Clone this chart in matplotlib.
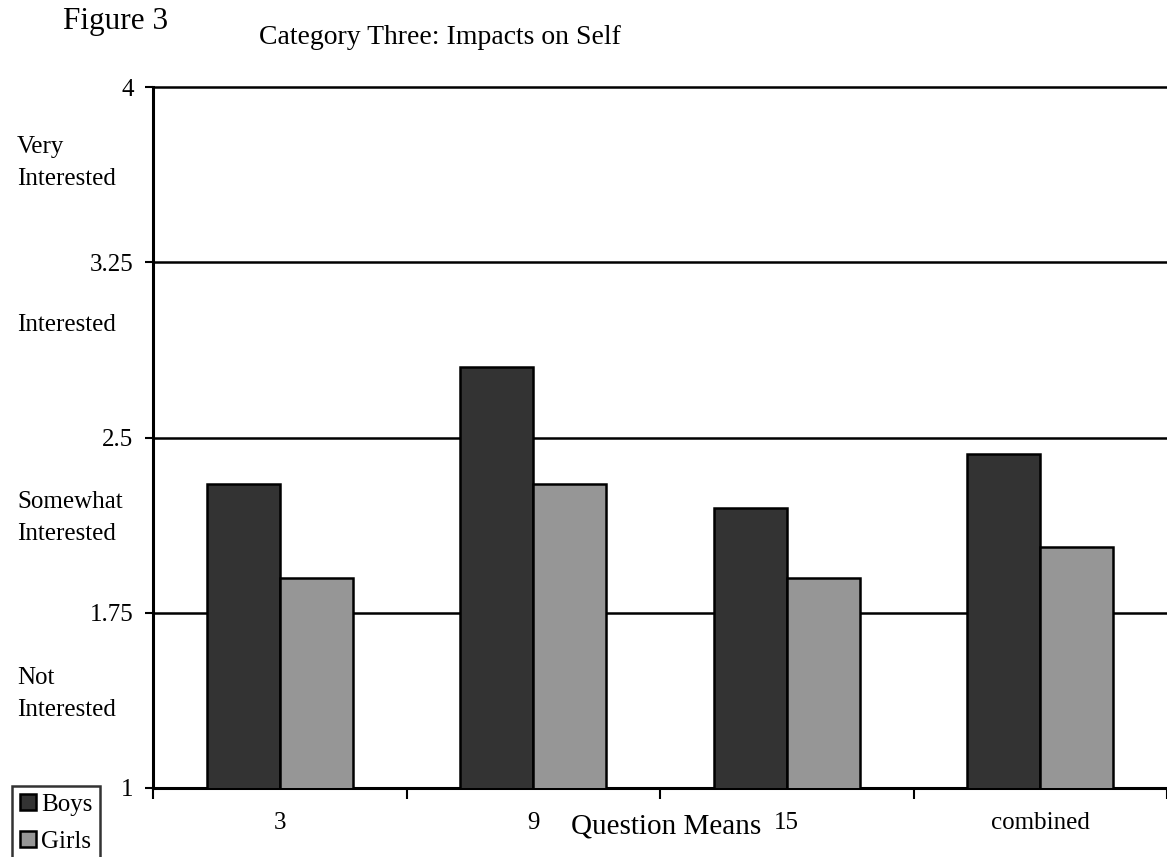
import numpy as np
import matplotlib
matplotlib.use("Agg")
import matplotlib.pyplot as plt
from matplotlib.patches import Patch
import matplotlib.transforms as mtransforms

plt.rcParams['font.family'] = ['Liberation Serif', 'DejaVu Serif']

# question means by group
questions = ['3', '9', '15', 'combined']
boys = [2.30, 2.80, 2.20, 2.43]
girls = [1.90, 2.30, 1.90, 2.03]
y_ticks = [1, 1.75, 2.5, 3.25, 4]
y_tick_labels = ['1', '1.75', '2.5', '3.25', '4']
scale_labels = ['Very\nInterested', 'Interested', 'Somewhat\nInterested', 'Not\nInterested']
scale_pos = [3.675, 2.98, 2.156, 1.403]

fig = plt.figure(figsize=(11.67, 8.57), dpi=100)
ax = fig.add_axes([153 / 1167, 69 / 857, 1 - 153 / 1167, 701 / 857])

x = np.arange(len(questions))
w = 0.288
ax.bar(x - w / 2, boys, w, bottom=0, color='#333333', edgecolor='black', linewidth=1.8, zorder=3)
ax.bar(x + w / 2, girls, w, bottom=0, color='#969696', edgecolor='black', linewidth=1.8, zorder=3)

ax.set_xlim(-0.5, len(questions) - 0.5)
ax.set_ylim(1, 4)

# horizontal reference lines, the top one sits on the axes edge
for yv in y_ticks[1:]:
    ax.axhline(yv, color='black', linewidth=1.8, zorder=1, clip_on=False)

ax.set_yticks(y_ticks)
ax.set_yticklabels(y_tick_labels, fontsize=18)
ax.tick_params(axis='y', direction='out', length=6, width=1.5, pad=8)

ax.set_xticks(np.arange(len(questions) + 1) - 0.5)
ax.set_xticklabels([])
ax.tick_params(axis='x', direction='out', length=8, width=1.5)
for i, q in enumerate(questions):
    ax.text(i, 1 - 823 / 857, q, transform=mtransforms.blended_transform_factory(ax.transData, fig.transFigure),
            ha='center', va='center', fontsize=18)

fig.text(666 / 1167, 1 - 827 / 857, 'Question Means', ha='center', va='center', fontsize=21)

for s in ['top', 'right']:
    ax.spines[s].set_visible(False)
for s in ['left', 'bottom']:
    ax.spines[s].set_linewidth(2.2)

trans = mtransforms.blended_transform_factory(fig.transFigure, ax.transData)
for lab, yv in zip(scale_labels, scale_pos):
    ax.text(17 / 1167, yv, lab, transform=trans, ha='left', va='center', fontsize=18, linespacing=1.55)

fig.text(63 / 1167, 1 - 22 / 857, 'Figure 3', ha='left', va='center', fontsize=22.5)
fig.text(440 / 1167, 1 - 38 / 857, 'Category Three: Impacts on Self', ha='center', va='center', fontsize=20)

handles = [Patch(facecolor='#333333', edgecolor='black', linewidth=1.8, label='Boys'),
           Patch(facecolor='#969696', edgecolor='black', linewidth=1.8, label='Girls')]
leg = fig.legend(handles=handles, loc='lower left', bbox_to_anchor=(12 / 1167, -0.004),
                 frameon=True, fancybox=False, edgecolor='black', fontsize=18,
                 handlelength=0.65, handleheight=0.65, handletextpad=0.2,
                 borderpad=0.3, labelspacing=0.6, borderaxespad=0)
leg.get_frame().set_linewidth(1.8)

fig.savefig('out.png', dpi=100)
